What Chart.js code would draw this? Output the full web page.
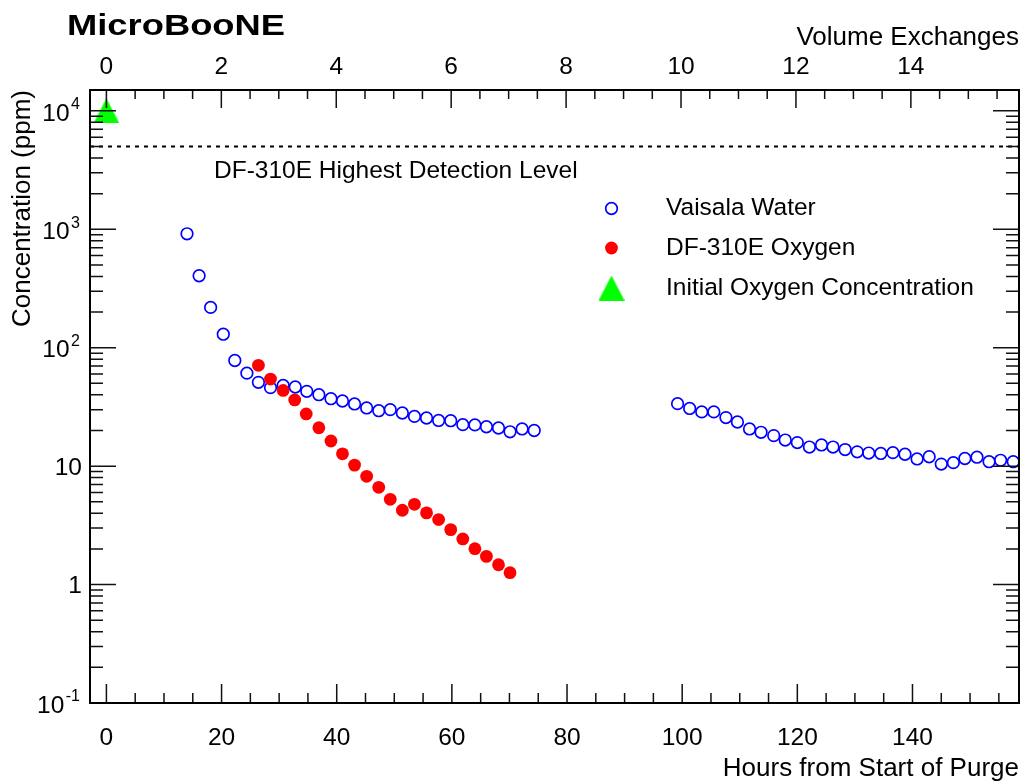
<!DOCTYPE html>
<html>
<head>
<meta charset="utf-8">
<style>
  html, body { margin: 0; padding: 0; background: #ffffff; }
  canvas { display: block; }
</style>
<script src="https://cdn.jsdelivr.net/npm/chart.js@4.4.1/dist/chart.umd.min.js"></script>
</head>
<body>
<canvas id="c" width="1023" height="784"></canvas>
<script>
// ---------------- data ----------------
const hoursWater1 = [14.0, 16.1, 18.1, 20.3, 22.3, 24.4, 26.4, 28.5, 30.7, 32.8, 34.8, 36.9, 39.0, 41.0, 43.1,
                     45.2, 47.3, 49.3, 51.4, 53.5, 55.6, 57.7, 59.8, 61.9, 64.0, 66.0, 68.1, 70.1, 72.2, 74.3];
const water1 = [916, 405, 219, 130, 78, 61, 51, 46, 48, 46.6, 42.8, 40.1, 37.1, 35.5, 33.5,
                31.0, 29.4, 30.0, 28.1, 26.3, 25.5, 24.3, 24.2, 22.4, 22.3, 21.5, 21.0, 19.5, 20.6, 20.0];
const hoursWater2 = [99.2, 101.3, 103.4, 105.5, 107.6, 109.6, 111.7, 113.7, 115.9, 117.9, 120.0, 122.1, 124.2, 126.2, 128.3,
                     130.4, 132.4, 134.5, 136.6, 138.7, 140.8, 142.9, 145.0, 147.1, 149.1, 151.2, 153.3, 155.3, 157.5];
const water2 = [33.7, 30.7, 28.7, 28.7, 25.7, 23.6, 20.6, 19.3, 18.1, 16.6, 15.8, 14.5, 15.1, 14.5, 13.8,
                13.2, 12.9, 12.8, 13.0, 12.6, 11.5, 12.0, 10.4, 10.7, 11.6, 11.9, 10.9, 11.2, 10.9];
const hoursOxygen = [26.4, 28.5, 30.7, 32.7, 34.7, 36.9, 39.0, 41.0, 43.1, 45.2, 47.3, 49.3, 51.4, 53.5, 55.6,
                     57.7, 59.8, 61.9, 64.0, 66.0, 68.1, 70.1];
const oxygen = [71.0, 54.4, 43.6, 36.2, 27.6, 21.1, 16.3, 12.7, 10.2, 8.20, 6.63, 5.25, 4.24, 4.76, 4.03,
                3.54, 2.91, 2.43, 2.01, 1.73, 1.47, 1.26];
const hoursInitial = [0];
const initialOxygen = [10000];
const detectionLimit = 5000;

const hourTicks = [0, 20, 40, 60, 80, 100, 120, 140];
const exchangeTicks = [0, 2, 4, 6, 8, 10, 12, 14];
const yDecades = [0.1, 1, 10, 100, 1000, 10000];
const yTickLabels = [['10', '-1'], ['1', ''], ['10', ''], ['10', '2'], ['10', '3'], ['10', '4']];
const hoursPerExchange = 9.98;
const xMin = -2.85, xMax = 158.5;
const yMin = 0.1, yMax = 15000;

const seriesLabels = ['Vaisala Water', 'DF-310E Oxygen', 'Initial Oxygen Concentration'];

// ---------------- helpers ----------------
const FONT = "'Liberation Sans', Arial, Helvetica, sans-serif";
const FS = 24.5;
const TS = 26;
Chart.defaults.font.family = FONT;
Chart.defaults.color = '#000';

function pts(xs, ys) { return xs.map((x, i) => ({ x: x, y: ys[i] })); }

const tri = document.createElement('canvas');
tri.width = 26; tri.height = 25;
(function () {
  const t = tri.getContext('2d');
  t.fillStyle = '#00ff00';
  t.beginPath(); t.moveTo(13, 0); t.lineTo(26, 25); t.lineTo(0, 25); t.closePath(); t.fill();
})();

const BLUE = '#0000ff', RED = '#ff0000';

const rootPlugin = {
  id: 'rootStyle',
  afterDatasetsDraw(chart) {
    const { ctx, chartArea: a, scales } = chart;
    const xs = scales.x, xt = scales.x2, ys = scales.y;
    ctx.save();
    ctx.strokeStyle = '#111';
    ctx.lineWidth = 1.5;
    ctx.beginPath();
    // bottom ticks (hours)
    for (let i = Math.ceil(xMin / 5); i * 5 <= xMax; i++) {
      const px = xs.getPixelForValue(i * 5);
      const len = (i % 4 === 0) ? 19 : 10;
      ctx.moveTo(px, a.bottom); ctx.lineTo(px, a.bottom - len);
    }
    // top ticks (volume exchanges)
    const tMin = xMin / hoursPerExchange, tMax = xMax / hoursPerExchange;
    for (let i = Math.ceil(tMin / 0.5); i * 0.5 <= tMax; i++) {
      const px = xt.getPixelForValue(i * 0.5);
      const len = (i % 4 === 0) ? 18 : 9;
      ctx.moveTo(px, a.top); ctx.lineTo(px, a.top + len);
    }
    // left/right log ticks
    yDecades.forEach(d => {
      for (let m = 1; m <= 9; m++) {
        const v = m * d;
        if (v > yMax || v < yMin) continue;
        const py = ys.getPixelForValue(v);
        const len = m === 1 ? 26 : 13;
        ctx.moveTo(a.left, py); ctx.lineTo(a.left + len, py);
        ctx.moveTo(a.right, py); ctx.lineTo(a.right - len, py);
      }
    });
    ctx.stroke();
    // frame
    ctx.strokeStyle = '#000';
    ctx.lineWidth = 2;
    ctx.strokeRect(a.left, a.top, a.right - a.left, a.bottom - a.top);
    ctx.restore();
  },
  afterDraw(chart) {
    const { ctx, chartArea: a, scales } = chart;
    const ys = scales.y;
    ctx.save();
    ctx.fillStyle = '#000';
    // y tick labels with superscripts
    yDecades.forEach((d, i) => {
      const py = ys.getPixelForValue(d);
      const [base, sup] = yTickLabels[i];
      ctx.textAlign = 'right';
      ctx.textBaseline = 'middle';
      if (sup) {
        ctx.font = '16px ' + FONT;
        const w = ctx.measureText(sup).width;
        ctx.fillText(sup, a.left - 10, py - 6);
        ctx.font = FS + 'px ' + FONT;
        ctx.fillText(base, a.left - 10 - w - 1.5, py + 3);
      } else {
        ctx.font = FS + 'px ' + FONT;
        ctx.fillText(base, a.left - 8, py + 2);
      }
    });
    // title
    ctx.font = 'bold 30px ' + FONT;
    ctx.textAlign = 'left';
    ctx.textBaseline = 'middle';
    const tw = ctx.measureText('MicroBooNE').width;
    ctx.save();
    ctx.translate(67, 27);
    ctx.scale(218 / tw, 1);
    ctx.fillText('MicroBooNE', 0, 0);
    ctx.restore();
    // detection level annotation
    ctx.font = FS + 'px ' + FONT;
    ctx.fillText('DF-310E Highest Detection Level', a.left + 124, 171);
    // legend
    const lx = 611.5, tx = 666;
    const rows = [208.5, 248, 288];
    ctx.strokeStyle = BLUE; ctx.lineWidth = 1.7;
    ctx.beginPath(); ctx.arc(lx, rows[0], 5.8, 0, Math.PI * 2); ctx.stroke();
    ctx.fillStyle = RED;
    ctx.beginPath(); ctx.arc(lx, rows[1], 6.4, 0, Math.PI * 2); ctx.fill();
    ctx.drawImage(tri, lx - 13, rows[2] - 12.5);
    ctx.fillStyle = '#000';
    seriesLabels.forEach((t, i) => ctx.fillText(t, tx, rows[i]));
    ctx.restore();
  }
};

const tickFont = { size: FS, family: FONT };
const titleFont = { size: TS, family: FONT };

new Chart(document.getElementById('c'), {
  type: 'scatter',
  data: {
    datasets: [
      {
        label: 'DF-310E Highest Detection Level',
        type: 'line',
        data: [{ x: xMin, y: detectionLimit }, { x: xMax, y: detectionLimit }],
        borderColor: '#000', borderWidth: 2, borderDash: [4, 5],
        pointRadius: 0, fill: false, order: 4
      },
      {
        label: seriesLabels[0],
        data: pts(hoursWater1.concat(hoursWater2), water1.concat(water2)),
        pointStyle: 'circle', pointRadius: 5.8, pointBorderWidth: 1.7,
        borderColor: BLUE, backgroundColor: 'rgba(0,0,0,0)',
        pointBorderColor: BLUE, pointBackgroundColor: 'rgba(0,0,0,0)',
        clip: 8, order: 3
      },
      {
        label: seriesLabels[1],
        data: pts(hoursOxygen, oxygen),
        pointStyle: 'circle', pointRadius: 6.4, pointBorderWidth: 0,
        borderColor: RED, backgroundColor: RED,
        pointBackgroundColor: RED, clip: 8, order: 2
      },
      {
        label: seriesLabels[2],
        data: pts(hoursInitial, initialOxygen),
        pointStyle: tri, pointRadius: 13, clip: 14, order: 1
      }
    ]
  },
  options: {
    responsive: false,
    animation: false,
    events: [],
    layout: { autoPadding: false, padding: { left: 0, right: 4, top: 0, bottom: 0 } },
    plugins: { legend: { display: false }, tooltip: { enabled: false }, title: { display: false } },
    scales: {
      x: {
        type: 'linear', position: 'bottom', min: xMin, max: xMax,
        grid: { display: false }, border: { display: false },
        afterBuildTicks: s => { s.ticks = hourTicks.map(v => ({ value: v })); },
        afterFit: s => { s.height = 81; },
        ticks: { padding: 13, autoSkip: false, maxRotation: 0, font: tickFont, color: '#000',
                 callback: v => String(v) },
        title: { display: true, text: 'Hours from Start of Purge', align: 'end',
                 padding: { top: 0, bottom: 0 }, font: titleFont, color: '#000' }
      },
      x2: {
        type: 'linear', position: 'top', min: xMin / hoursPerExchange, max: xMax / hoursPerExchange,
        grid: { display: false }, border: { display: false },
        afterBuildTicks: s => { s.ticks = exchangeTicks.map(v => ({ value: v })); },
        afterFit: s => { s.height = 90; },
        ticks: { padding: 0, autoSkip: false, maxRotation: 0, font: tickFont, color: '#000',
                 callback: v => String(v) },
        title: { display: true, text: 'Volume Exchanges', align: 'end',
                 padding: { top: 22, bottom: 0 }, font: titleFont, color: '#000' }
      },
      y: {
        type: 'logarithmic', position: 'left', min: yMin, max: yMax,
        grid: { display: false }, border: { display: false },
        afterFit: s => { s.width = 90; },
        ticks: { display: false },
        title: { display: true, text: 'Concentration (ppm)', align: 'end',
                 padding: { top: 7, bottom: 0 }, font: titleFont, color: '#000' }
      }
    }
  },
  plugins: [rootPlugin]
});
</script>
</body>
</html>
